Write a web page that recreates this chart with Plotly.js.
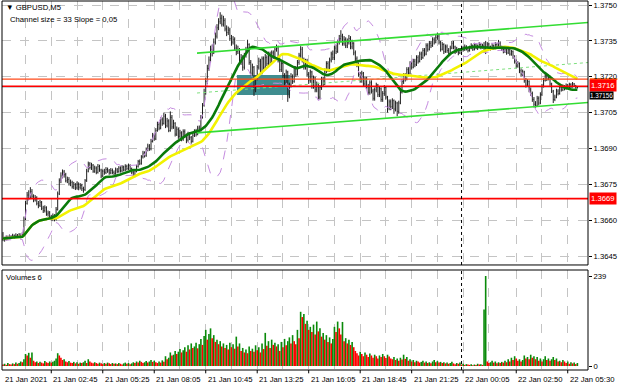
<!DOCTYPE html>
<html><head><meta charset="utf-8">
<script src="https://cdn.plot.ly/plotly-3.0.1.min.js"></script>
<style>html,body{margin:0;padding:0;background:#fff}#chart{width:620px;height:388px}</style>
</head><body><div id="chart"></div>
<script>
// GBPUSD M5, bars from 21 Jan 00:15 (index 0) to 22 Jan 05:55
const firstOpen = 1.36520;
const closes = [
1.36525,1.36520,1.36530,1.36524,1.36531,1.36528,1.36535,1.36529,1.36536,1.36532,
1.36538,1.36530,1.36542,1.36605,1.36670,1.36705,1.36692,1.36718,1.36700,1.36685,
1.36695,1.36670,1.36662,1.36675,1.36650,1.36640,1.36652,1.36625,1.36630,1.36615,
1.36605,1.36618,1.36602,1.36645,1.36710,1.36765,1.36785,1.36802,1.36790,1.36765,
1.36770,1.36752,1.36758,1.36740,1.36748,1.36735,1.36750,1.36738,1.36745,1.36732,
1.36728,1.36765,1.36805,1.36835,1.36820,1.36830,1.36805,1.36818,1.36800,1.36825,
1.36810,1.36785,1.36805,1.36800,1.36812,1.36806,1.36798,1.36808,1.36800,1.36796,
1.36810,1.36804,1.36818,1.36806,1.36822,1.36810,1.36825,1.36816,1.36828,1.36815,
1.36800,1.36786,1.36805,1.36825,1.36845,1.36838,1.36865,1.36880,1.36870,1.36895,
1.36910,1.36898,1.36930,1.36955,1.36940,1.36975,1.37000,1.36985,1.37020,1.37005,
1.37035,1.36995,1.37015,1.36975,1.37030,1.36990,1.37005,1.36960,1.36980,1.36950,
1.36965,1.36940,1.36970,1.36955,1.36935,1.36960,1.36945,1.36930,1.36955,1.36970,
1.36960,1.36985,1.36975,1.37030,1.37080,1.37135,1.37180,1.37235,1.37270,1.37315,
1.37300,1.37345,1.37370,1.37405,1.37430,1.37445,1.37420,1.37435,1.37400,1.37385,
1.37395,1.37360,1.37345,1.37355,1.37320,1.37305,1.37315,1.37265,1.37280,1.37240,
1.37290,1.37310,1.37335,1.37260,1.37215,1.37240,1.37145,1.37195,1.37240,1.37265,
1.37220,1.37275,1.37240,1.37280,1.37255,1.37295,1.37260,1.37300,1.37285,1.37315,
1.37320,1.37270,1.37230,1.37255,1.37205,1.37175,1.37220,1.37120,1.37165,1.37200,
1.37180,1.37235,1.37210,1.37260,1.37290,1.37315,1.37270,1.37240,1.37265,1.37210,
1.37185,1.37220,1.37160,1.37195,1.37145,1.37170,1.37115,1.37155,1.37190,1.37170,
1.37225,1.37255,1.37230,1.37270,1.37295,1.37280,1.37320,1.37305,1.37345,1.37360,
1.37370,1.37340,1.37355,1.37330,1.37345,1.37360,1.37325,1.37340,1.37300,1.37275,
1.37250,1.37210,1.37185,1.37215,1.37170,1.37190,1.37160,1.37135,1.37175,1.37140,
1.37110,1.37145,1.37165,1.37125,1.37150,1.37105,1.37130,1.37155,1.37115,1.37070,
1.37095,1.37075,1.37100,1.37065,1.37090,1.37055,1.37090,1.37135,1.37180,1.37205,
1.37190,1.37230,1.37215,1.37255,1.37240,1.37265,1.37250,1.37280,1.37265,1.37295,
1.37280,1.37310,1.37295,1.37330,1.37315,1.37340,1.37330,1.37355,1.37345,1.37365,
1.37370,1.37345,1.37315,1.37335,1.37305,1.37325,1.37310,1.37295,1.37320,1.37340,
1.37325,1.37305,1.37315,1.37300,1.37310,1.37320,1.37313,1.37325,1.37317,1.37310,
1.37320,1.37330,1.37315,1.37333,1.37320,1.37327,1.37335,1.37323,1.37330,1.37315,
1.37325,1.37337,1.37325,1.37317,1.37330,1.37320,1.37335,1.37325,1.37340,1.37325,
1.37315,1.37305,1.37317,1.37300,1.37313,1.37295,1.37305,1.37285,1.37265,1.37245,
1.37255,1.37225,1.37210,1.37220,1.37185,1.37165,1.37180,1.37145,1.37130,1.37105,
1.37085,1.37080,1.37110,1.37090,1.37125,1.37160,1.37185,1.37205,1.37190,1.37200,
1.37170,1.37140,1.37105,1.37115,1.37140,1.37130,1.37155,1.37145,1.37160,1.37150,
1.37165,1.37155,1.37168,1.37158,1.37170,1.37162,1.37154,1.37156];
const highs = [
1.36550,1.36530,1.36536,1.36535,1.36540,1.36537,1.36543,1.36540,1.36545,1.36542,
1.36546,1.36544,1.36550,1.36615,1.36680,1.36718,1.36725,1.36738,1.36730,1.36708,
1.36705,1.36700,1.36680,1.36685,1.36680,1.36660,1.36662,1.36658,1.36640,1.36638,
1.36622,1.36628,1.36625,1.36655,1.36720,1.36775,1.36800,1.36812,1.36810,1.36798,
1.36782,1.36780,1.36770,1.36765,1.36760,1.36755,1.36762,1.36758,1.36755,1.36752,
1.36740,1.36772,1.36815,1.36845,1.36843,1.36840,1.36835,1.36828,1.36825,1.36835,
1.36832,1.36815,1.36812,1.36815,1.36822,1.36820,1.36814,1.36818,1.36816,1.36808,
1.36820,1.36818,1.36826,1.36825,1.36830,1.36828,1.36834,1.36832,1.36836,1.36834,
1.36820,1.36806,1.36812,1.36832,1.36852,1.36854,1.36872,1.36890,1.36888,1.36904,
1.36920,1.36918,1.36940,1.36965,1.36962,1.36985,1.37012,1.37010,1.37030,1.37030,
1.37050,1.37045,1.37028,1.37022,1.37055,1.37040,1.37020,1.37010,1.36992,1.36988,
1.36978,1.36972,1.36980,1.36980,1.36962,1.36970,1.36968,1.36952,1.36965,1.36980,
1.36982,1.36995,1.36996,1.37040,1.37090,1.37150,1.37195,1.37250,1.37285,1.37330,
1.37335,1.37360,1.37385,1.37420,1.37445,1.37470,1.37460,1.37455,1.37445,1.37415,
1.37410,1.37405,1.37375,1.37370,1.37365,1.37335,1.37330,1.37320,1.37295,1.37290,
1.37300,1.37325,1.37355,1.37340,1.37270,1.37255,1.37245,1.37205,1.37250,1.37280,
1.37275,1.37285,1.37285,1.37295,1.37290,1.37305,1.37305,1.37310,1.37310,1.37325,
1.37335,1.37330,1.37280,1.37265,1.37260,1.37215,1.37230,1.37225,1.37175,1.37215,
1.37210,1.37245,1.37245,1.37270,1.37300,1.37328,1.37325,1.37280,1.37275,1.37275,
1.37220,1.37230,1.37225,1.37205,1.37200,1.37180,1.37175,1.37165,1.37200,1.37200,
1.37235,1.37265,1.37265,1.37280,1.37305,1.37310,1.37330,1.37335,1.37355,1.37375,
1.37395,1.37380,1.37370,1.37365,1.37360,1.37375,1.37370,1.37355,1.37345,1.37310,
1.37285,1.37260,1.37220,1.37225,1.37220,1.37200,1.37200,1.37170,1.37185,1.37185,
1.37150,1.37155,1.37175,1.37170,1.37160,1.37155,1.37140,1.37165,1.37160,1.37120,
1.37105,1.37105,1.37110,1.37105,1.37100,1.37095,1.37100,1.37145,1.37190,1.37215,
1.37215,1.37240,1.37240,1.37265,1.37265,1.37275,1.37275,1.37290,1.37290,1.37305,
1.37305,1.37320,1.37320,1.37340,1.37340,1.37350,1.37350,1.37365,1.37365,1.37375,
1.37385,1.37380,1.37350,1.37345,1.37340,1.37335,1.37335,1.37320,1.37330,1.37350,
1.37350,1.37330,1.37325,1.37320,1.37320,1.37330,1.37328,1.37335,1.37332,1.37325,
1.37330,1.37340,1.37335,1.37342,1.37340,1.37335,1.37345,1.37340,1.37338,1.37345,
1.37350,1.37345,1.37342,1.37330,1.37340,1.37335,1.37345,1.37342,1.37354,1.37348,
1.37330,1.37320,1.37325,1.37322,1.37320,1.37318,1.37312,1.37310,1.37290,1.37272,
1.37265,1.37260,1.37235,1.37230,1.37225,1.37195,1.37190,1.37185,1.37155,1.37138,
1.37115,1.37098,1.37120,1.37118,1.37135,1.37170,1.37195,1.37215,1.37212,1.37210,
1.37205,1.37175,1.37145,1.37125,1.37150,1.37148,1.37162,1.37160,1.37168,1.37165,
1.37172,1.37170,1.37175,1.37173,1.37178,1.37174,1.37166,1.37160];
const lows = [
1.36512,1.36510,1.36515,1.36516,1.36520,1.36521,1.36523,1.36522,1.36525,1.36526,
1.36528,1.36524,1.36527,1.36538,1.36600,1.36665,1.36685,1.36688,1.36690,1.36675,
1.36678,1.36662,1.36650,1.36655,1.36642,1.36630,1.36632,1.36618,1.36615,1.36605,
1.36598,1.36596,1.36595,1.36598,1.36640,1.36705,1.36755,1.36775,1.36778,1.36758,
1.36755,1.36745,1.36742,1.36732,1.36730,1.36726,1.36728,1.36725,1.36728,1.36722,
1.36715,1.36722,1.36760,1.36800,1.36812,1.36810,1.36798,1.36798,1.36792,1.36795,
1.36802,1.36776,1.36780,1.36790,1.36793,1.36798,1.36790,1.36792,1.36792,1.36788,
1.36790,1.36796,1.36798,1.36799,1.36800,1.36804,1.36805,1.36808,1.36810,1.36808,
1.36792,1.36778,1.36780,1.36800,1.36820,1.36830,1.36832,1.36858,1.36862,1.36865,
1.36888,1.36890,1.36892,1.36925,1.36932,1.36935,1.36970,1.36976,1.36980,1.36995,
1.37000,1.36985,1.36988,1.36968,1.36970,1.36980,1.36982,1.36950,1.36952,1.36940,
1.36942,1.36930,1.36932,1.36945,1.36922,1.36928,1.36935,1.36920,1.36925,1.36948,
1.36950,1.36955,1.36965,1.36970,1.37025,1.37075,1.37125,1.37170,1.37225,1.37260,
1.37285,1.37295,1.37335,1.37360,1.37395,1.37420,1.37410,1.37410,1.37390,1.37370,
1.37375,1.37350,1.37330,1.37335,1.37310,1.37290,1.37295,1.37255,1.37250,1.37225,
1.37230,1.37280,1.37300,1.37250,1.37205,1.37205,1.37120,1.37135,1.37185,1.37230,
1.37210,1.37210,1.37230,1.37230,1.37245,1.37245,1.37250,1.37255,1.37275,1.37275,
1.37305,1.37260,1.37220,1.37220,1.37195,1.37165,1.37170,1.37095,1.37110,1.37155,
1.37170,1.37175,1.37200,1.37205,1.37250,1.37280,1.37260,1.37230,1.37230,1.37200,
1.37170,1.37175,1.37150,1.37150,1.37135,1.37135,1.37105,1.37105,1.37145,1.37160,
1.37165,1.37215,1.37220,1.37220,1.37260,1.37270,1.37270,1.37295,1.37300,1.37335,
1.37350,1.37330,1.37330,1.37320,1.37320,1.37335,1.37315,1.37315,1.37290,1.37265,
1.37240,1.37200,1.37175,1.37175,1.37160,1.37160,1.37150,1.37125,1.37125,1.37130,
1.37100,1.37100,1.37135,1.37115,1.37115,1.37095,1.37095,1.37120,1.37105,1.37050,
1.37060,1.37060,1.37065,1.37045,1.37055,1.37035,1.37045,1.37085,1.37130,1.37170,
1.37180,1.37185,1.37205,1.37210,1.37230,1.37235,1.37240,1.37245,1.37255,1.37260,
1.37270,1.37275,1.37285,1.37290,1.37305,1.37310,1.37320,1.37325,1.37335,1.37340,
1.37355,1.37335,1.37305,1.37310,1.37295,1.37300,1.37300,1.37285,1.37290,1.37315,
1.37315,1.37295,1.37300,1.37290,1.37295,1.37305,1.37305,1.37308,1.37310,1.37302,
1.37305,1.37315,1.37308,1.37310,1.37315,1.37312,1.37320,1.37315,1.37318,1.37300,
1.37295,1.37320,1.37318,1.37310,1.37312,1.37313,1.37315,1.37320,1.37320,1.37318,
1.37308,1.37298,1.37300,1.37292,1.37295,1.37288,1.37288,1.37275,1.37255,1.37235,
1.37238,1.37215,1.37200,1.37202,1.37175,1.37155,1.37158,1.37135,1.37120,1.37095,
1.37072,1.37070,1.37075,1.37080,1.37085,1.37120,1.37155,1.37180,1.37182,1.37185,
1.37162,1.37132,1.37090,1.37098,1.37110,1.37122,1.37125,1.37138,1.37140,1.37143,
1.37146,1.37150,1.37152,1.37153,1.37155,1.37158,1.37150,1.37151];
const volumes = [
4,6,3,8,5,4,7,5,9,6, 8,12,10,18,32,28,35,22,36,14, 10,12,8,11,9,7,13,10,8,12,
9,11,14,20,34,28,22,16,18,12, 10,13,9,8,11,7,10,6,9,8, 10,14,8,18,12,9,7,10,8,6,
9,7,5,8,6,9,7,5,8,6, 7,5,8,6,4,7,9,6,8,5, 7,10,8,12,9,14,11,8,10,13,
9,12,16,11,14,10,8,12,9,15, 11,26,18,22,36,28,30,40,32,38, 45,36,42,50,38,55,44,60,48,52,
62,47,58,72,56,80,96,70,85,100, 74,82,64,70,58,66,52,60,48,56, 44,62,50,58,46,78,52,60,40,48,
36,44,34,52,40,46,38,55,42,50, 36,60,45,88,54,66,48,70,56,62, 52,58,40,64,50,72,55,66,76,60,
82,66,58,96,74,144,130,138,112,120, 96,104,90,110,84,118,92,100,78,88, 70,82,64,76,60,72,104,90,118,100,
84,117,66,74,60,70,56,64,50,40, 34,28,38,32,26,36,30,24,33,28, 22,30,26,20,28,24,32,26,21,30,
25,20,18,24,16,20,14,22,17,30, 19,24,14,18,12,16,10,14,12,9, 11,14,9,12,8,10,7,12,16,10,
13,9,11,8,10,7,9,6,8,11, 7,5,8,6,9,4,6,3,5,4, 3,5,2,4,3,6,4,5,3,150,
239,12,8,10,14,9,12,7,10,8, 11,9,14,10,18,12,22,16,26,20, 14,18,12,16,28,20,24,18,30,22,
26,18,24,14,20,12,18,26,16,20, 14,18,24,16,20,12,14,10,16,12, 8,12,6,10,7,9,5,8];

// axis labels (bar index -> label)
const labelIndex = [0,30,62,94,126,158,190,222,254,286,319,351];
const labelText = ["21 Jan 2021","21 Jan 02:45","21 Jan 05:25","21 Jan 08:05","21 Jan 10:45","21 Jan 13:25",
  "21 Jan 16:05","21 Jan 18:45","21 Jan 21:25","22 Jan 00:05","22 Jan 02:50","22 Jan 05:30"];
const gridIndex = [14,30,46,62,78,94,110,126,142,158,174,190,206,222,238,254,270,286,302,319,335,351];
const priceTicks = [1.3645,1.3660,1.3675,1.3690,1.3705,1.3720,1.3735,1.3750];
const volumeTicks = [0,239];
const dayBreakIndex = 285;

// drawn objects
const supportLevel = 1.3669;
const redLevel = 1.3716;
const orangeLevel = 1.3719;
const channelIndex = [120.6, 363.6];
const channelUpper = [1.37299, 1.37427];
const channelLower = [1.36965, 1.37092];
const zoneIndex = [145.4, 178.4];
const zonePrice = [1.37124, 1.37207];

const n = closes.length;
const idx = closes.map((_, i) => i);
const opens = closes.map((c, i) => i === 0 ? firstOpen : closes[i - 1]);

function sma(p) {
  return closes.map((_, i) => {
    const s = Math.max(0, i - p + 1);
    let t = 0; for (let k = s; k <= i; k++) t += closes[k];
    return t / (i - s + 1);
  });
}
function bands(p, d) {
  const up = [], lo = [];
  closes.forEach((_, i) => {
    const s = Math.max(0, i - p + 1), m = i - s + 1;
    let t = 0; for (let k = s; k <= i; k++) t += closes[k];
    const mean = t / m;
    let v = 0; for (let k = s; k <= i; k++) v += (closes[k] - mean) ** 2;
    const sd = Math.sqrt(v / m);
    up.push(mean + d * sd); lo.push(mean - d * sd);
  });
  return [up, lo];
}
const ma30 = sma(30), ma50 = sma(50);
const [bbUp, bbLo] = bands(20, 2);
const volColors = volumes.map((v, i) => (i > 0 && v > volumes[i - 1]) ? '#0a8a0a' : '#ff0000');
const lastClose = closes[n - 1];

const FONT = 'Liberation Sans, Arial, sans-serif';
const traces = [
  {type:'bar', x: idx, y: volumes, xaxis:'x', yaxis:'y2', marker:{color: volColors, line:{width:0}}, width:1.0, hoverinfo:'skip'},
  {type:'ohlc', x: idx, open: opens, high: highs, low: lows, close: closes, xaxis:'x', yaxis:'y',
   increasing:{line:{color:'#1e1e1e', width:1}}, decreasing:{line:{color:'#1e1e1e', width:1}}, tickwidth:0.3, hoverinfo:'skip'},
  {type:'scatter', mode:'lines', x: idx, y: bbUp, line:{color:'#c58be0', width:1, dash:'dash'}, hoverinfo:'skip'},
  {type:'scatter', mode:'lines', x: idx, y: bbLo, line:{color:'#c58be0', width:1, dash:'dash'}, hoverinfo:'skip'},
  {type:'scatter', mode:'lines', x: channelIndex, y: [(channelUpper[0]+channelLower[0])/2, (channelUpper[1]+channelLower[1])/2],
   line:{color:'#7fe07f', width:1, dash:'dot'}, hoverinfo:'skip'},
  {type:'scatter', mode:'lines', x: idx, y: ma50, line:{color:'#f2f200', width:2.6}, hoverinfo:'skip'},
  {type:'scatter', mode:'lines', x: idx, y: ma30, line:{color:'#0a7a0a', width:2.6}, hoverinfo:'skip'},
  {type:'scatter', mode:'lines', x: channelIndex, y: channelUpper, line:{color:'#33dd33', width:1.6}, hoverinfo:'skip'},
  {type:'scatter', mode:'lines', x: channelIndex, y: channelLower, line:{color:'#33dd33', width:1.6}, hoverinfo:'skip'}
];

const hline = (y, color, w) => ({type:'line', xref:'paper', x0:0, x1:1, yref:'y', y0:y, y1:y, line:{color, width:w}, layer:'above'});
const xLabelAnn = labelIndex.map((v, k) => ({xref:'x', yref:'paper', x:v, y:-0.0244, xanchor:'left', yanchor:'middle',
  xshift:0, showarrow:false, text:labelText[k], font:{family:FONT, size:7.7, color:'#000'}}));
const layout = {
  width:620, height:388, margin:{l:2, r:32, t:1, b:18},
  paper_bgcolor:'#ffffff', plot_bgcolor:'#ffffff', showlegend:false, dragmode:false,
  font:{family:FONT, size:7.7, color:'#000'},
  xaxis:{type:'linear', range:[-0.62, 363.6], anchor:'y2', tickvals: gridIndex, showticklabels:false, automargin:false,
    ticks:'', showgrid:true, gridcolor:'#c4c4c4', griddash:'dash', gridwidth:1,
    zeroline:false, showline:false, rangeslider:{visible:false}},
  yaxis:{domain:[0.2846, 1], range:[1.364124, 1.37517], side:'right', anchor:'x', tickvals: priceTicks, automargin:false,
    ticktext: priceTicks.map(v => v.toFixed(4)), ticks:'outside', ticklen:3, tickcolor:'#000',
    showgrid:true, gridcolor:'#c4c4c4', griddash:'dash', zeroline:false, tickfont:{family:FONT, size:7.7, color:'#000'}},
  yaxis2:{domain:[0, 0.271], range:[-10.6, 255], side:'right', anchor:'x', tickvals: volumeTicks, automargin:false,
    ticktext: volumeTicks.map(String), ticks:'outside', ticklen:3, tickcolor:'#000',
    showgrid:false, zeroline:false, tickfont:{family:FONT, size:7.7, color:'#000'}},
  shapes:[
    {type:'rect', xref:'x', yref:'y', x0: zoneIndex[0], x1: zoneIndex[1], y0: zonePrice[0], y1: zonePrice[1],
     fillcolor:'#3f8d8f', line:{width:0}, layer:'between'},
    {type:'line', xref:'paper', x0:0, x1:1, yref:'y', y0:lastClose, y1:lastClose, line:{color:'#c0c0c0', width:1}, layer:'between'},
    hline(supportLevel, '#ff0000', 1.6),
    hline(orangeLevel, '#ff4a1a', 1.4),
    hline(redLevel, '#ff0000', 1.6),
    {type:'rect', xref:'paper', x0:1.003, x1:1.05, yref:'y', y0:orangeLevel - 0.00004, y1:orangeLevel + 0.00004,
     fillcolor:'#ff6a1a', line:{width:0}, layer:'below'},
    {type:'line', xref:'x', x0:dayBreakIndex, x1:dayBreakIndex, yref:'y domain', y0:0, y1:1, line:{color:'#000', width:1, dash:'dot'}},
    {type:'line', xref:'x', x0:dayBreakIndex, x1:dayBreakIndex, yref:'y2 domain', y0:0, y1:1, line:{color:'#000', width:1, dash:'dot'}},
    {type:'rect', xref:'paper', x0:0, x1:1, yref:'y domain', y0:0, y1:1, line:{color:'#000', width:1}, fillcolor:'rgba(0,0,0,0)', layer:'above'},
    {type:'rect', xref:'paper', x0:0, x1:1, yref:'y2 domain', y0:0, y1:1, line:{color:'#000', width:1}, fillcolor:'rgba(0,0,0,0)', layer:'above'}
  ].concat(labelIndex.slice(1).map(v => ({type:'line', xref:'x', x0:v, x1:v, yref:'paper', y0:0, y1:-0.009, line:{color:'#000', width:1}}))),
  annotations:[
    {xref:'paper', yref:'paper', x:0.004, y:0.9837, xanchor:'left', yanchor:'middle', showarrow:false,
     text:'\u25BC GBPUSD,M5', font:{family:FONT, size:7.7, color:'#000'}},
    {xref:'paper', yref:'paper', x:0.010, y:0.9512, xanchor:'left', yanchor:'middle', showarrow:false,
     text:'Channel size = 33 Slope = 0,05', font:{family:FONT, size:7.7, color:'#000'}},
    {xref:'paper', yref:'paper', x:0.004, y:0.2510, xanchor:'left', yanchor:'middle', showarrow:false,
     text:'Volumes 6', font:{family:FONT, size:7.7, color:'#000'}},
    {xref:'paper', yref:'y', x:1, y:supportLevel, xanchor:'left', yanchor:'middle', xshift:1, showarrow:false,
     text: supportLevel.toFixed(4), bgcolor:'#ff0000', borderpad:1, font:{family:FONT, size:7.7, color:'#fff'}},
    {xref:'paper', yref:'y', x:1, y:redLevel, xanchor:'left', yanchor:'middle', xshift:1, yshift:1, showarrow:false,
     text: redLevel.toFixed(4), bgcolor:'#ff0000', borderpad:1, font:{family:FONT, size:7.7, color:'#fff'}},
    {xref:'paper', yref:'y', x:1, y:lastClose, xanchor:'left', yanchor:'top', xshift:1, yshift:-4, showarrow:false,
     text: lastClose.toFixed(5), bgcolor:'#000', borderpad:0, font:{family:FONT, size:6.3, color:'#fff'}}
  ].concat(xLabelAnn)
};
Plotly.newPlot('chart', traces, layout, {staticPlot:true, displayModeBar:false});
</script></body></html>
